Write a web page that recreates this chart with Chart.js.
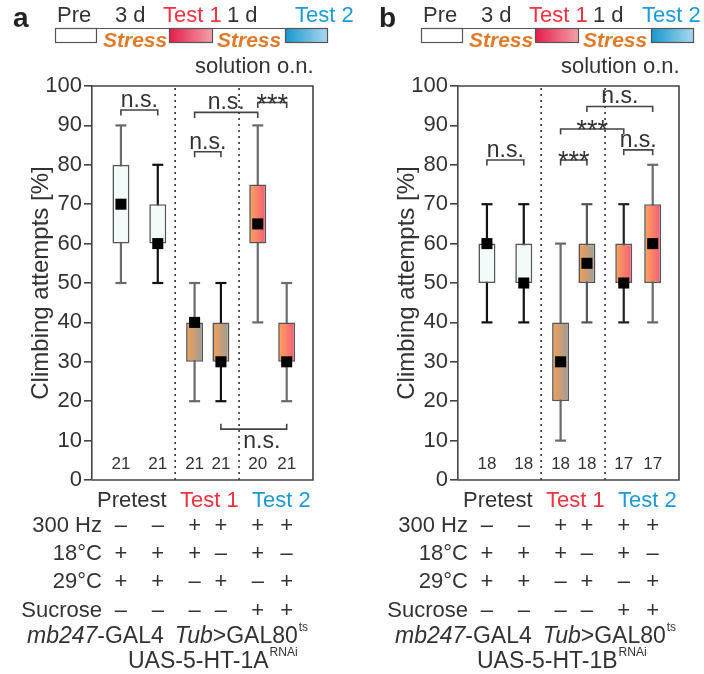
<!DOCTYPE html>
<html>
<head>
<meta charset="utf-8">
<script src="https://cdn.jsdelivr.net/npm/chart.js@4.4.0/dist/chart.umd.min.js"></script>
<style>
  html, body { margin: 0; padding: 0; background: #fff; }
  #wrap { position: relative; width: 704px; height: 674px; }
  .panel { position: absolute; top: 0; height: 674px; }
</style>
</head>
<body>
<div id="wrap">
  <div class="panel" style="left:0;width:366px"><canvas id="chartA"></canvas></div>
  <div class="panel" style="left:366px;width:338px"><canvas id="chartB"></canvas></div>
</div>
<script>
// x positions of the six boxes and the two dotted group dividers
const boxPos = [1.1, 2.5, 3.9, 4.9, 6.3, 7.4];
const dividerPos = [3.16, 5.59];
const groupNames = ["Pretest", "Test 1", "Test 2"];

// panel a: UAS-5-HT-1A RNAi
const aMin = [50, 50, 20, 20, 40, 20];
const aQ1 = [60, 60, 30, 30, 60, 30];
const aMed = [70, 60, 40, 30, 65, 30];
const aQ3 = [80, 70, 40, 40, 75, 40];
const aMax = [90, 80, 50, 50, 90, 50];
const aN = [21, 21, 21, 21, 20, 21];

// panel b: UAS-5-HT-1B RNAi
const bMin = [40, 40, 10, 40, 40, 40];
const bQ1 = [50, 50, 20, 50, 50, 50];
const bMed = [60, 50, 30, 55, 50, 60];
const bQ3 = [60, 60, 40, 60, 60, 70];
const bMax = [70, 70, 60, 70, 70, 80];
const bN = [18, 18, 18, 18, 17, 17];

// significance brackets (box index from/to, level in %, label)
const aBrFrom = [0, 2, 2, 4, 3];
const aBrTo = [1, 3, 4, 5, 5];
const aBrY = [93.9, 83.3, 93.3, 95.8, 12.9];
const aBrText = ["n.s.", "n.s.", "n.s.", "***", "n.s."];
const aBrDir = [-1, -1, -1, -1, 1];

const bBrFrom = [0, 2, 2, 3, 4];
const bBrTo = [1, 3, 4, 5, 5];
const bBrY = [81.2, 81.2, 89.1, 94.8, 83.8];
const bBrText = ["n.s.", "***", "***", "n.s.", "n.s."];
const bBrDir = [-1, -1, -1, -1, -1];

// condition table under the plots
const rowLabels = ["300 Hz", "18°C", "29°C", "Sucrose"];
const hz300 = ["–", "–", "+", "+", "+", "+"];
const temp18 = ["+", "+", "+", "–", "+", "–"];
const temp29 = ["+", "+", "–", "+", "–", "+"];
const sucrose = ["–", "–", "–", "–", "+", "+"];
const boxKind = ["pre", "pre", "test1", "test1", "test2", "test2"];

const FONT = '"Liberation Sans", Arial, Helvetica, sans-serif';
const TXT = "#333";
const RED = "#ef3340";
const BLUE = "#1d9bd7";
const ORANGE = "#e07b29";

function txt(ctx, s, x, y, size, color, align, style) {
  ctx.font = (style || "") + " " + size + "px " + FONT;
  ctx.fillStyle = color;
  ctx.textAlign = align || "left";
  ctx.textBaseline = "alphabetic";
  ctx.fillText(s, x, y);
  return ctx.measureText(s).width;
}

function hGrad(ctx, x0, x1, c0, c1) {
  const g = ctx.createLinearGradient(x0, 0, x1, 0);
  g.addColorStop(0, c0);
  g.addColorStop(1, c1);
  return g;
}

function boxFill(c) {
  const chart = c.chart;
  if (!chart.chartArea || c.dataIndex === undefined) return "#fff";
  const x = chart.scales.x.getPixelForValue(boxPos[c.dataIndex]);
  const kind = boxKind[c.dataIndex];
  if (kind === "pre") return "#f3fafa";
  if (kind === "test1") return hGrad(chart.ctx, x - 8.5, x + 8.5, "#f5a052", "#9c9c9c");
  return hGrad(chart.ctx, x - 8.5, x + 8.5, "#fca85a", "#f45a7a");
}

function makePanel(id, d) {
  const datasets = [];

  dividerPos.forEach((x) => {
    datasets.push({
      type: "line", order: 5,
      data: [{ x: x, y: 0 }, { x: x, y: 100 }],
      borderColor: "#333", borderWidth: 1.6, borderDash: [2, 4],
      pointRadius: 0, clip: false
    });
  });

  d.brFrom.forEach((f, i) => {
    const x1 = boxPos[f], x2 = boxPos[d.brTo[i]];
    const y = d.brY[i], y2 = y + d.brDir[i] * 1.4;
    datasets.push({
      type: "line", order: 5,
      data: [{ x: x1, y: y2 }, { x: x1, y: y }, { x: x2, y: y }, { x: x2, y: y2 }],
      borderColor: "#444", borderWidth: 1.6, pointRadius: 0
    });
  });

  datasets.push({
    type: "bar", order: 4, grouped: false, maxBarThickness: 2.2,
    data: boxPos.map((x, i) => ({ x: x, y: [d.min[i], d.max[i]] })),
    backgroundColor: d.whisk, borderWidth: 0
  });

  datasets.push({
    type: "bar", order: 3, grouped: false, maxBarThickness: 17,
    data: boxPos.map((x, i) => ({ x: x, y: [d.q1[i], d.q3[i]] })),
    backgroundColor: boxFill, borderColor: "#555", borderWidth: 1.6,
    borderSkipped: false
  });

  datasets.push({
    type: "line", order: 2, showLine: false,
    data: boxPos.map((x, i) => ({ x: x, y: d.min[i] })).concat(boxPos.map((x, i) => ({ x: x, y: d.max[i] }))),
    pointStyle: "line", pointRadius: 5.5, borderWidth: 2.2,
    pointBorderColor: d.whisk.concat(d.whisk)
  });

  datasets.push({
    type: "line", order: 1, showLine: false,
    data: boxPos.map((x, i) => ({ x: x, y: d.med[i] })),
    pointStyle: "rect", pointRadius: 7.8, pointBackgroundColor: "#000",
    pointBorderColor: "#000", pointBorderWidth: 0
  });

  const textPlugin = {
    id: "panelText",
    afterDraw(chart) {
      const ctx = chart.ctx;
      const a = chart.chartArea;
      const xs = chart.scales.x, ys = chart.scales.y;
      ctx.save();

      // frame
      ctx.strokeStyle = "#444";
      ctx.lineWidth = 1.6;
      ctx.beginPath();
      ctx.moveTo(a.left, a.top); ctx.lineTo(a.right, a.top);
      ctx.lineTo(a.right, a.bottom); ctx.lineTo(a.left, a.bottom);
      ctx.stroke();

      // bracket labels
      d.brFrom.forEach((f, i) => {
        const cx = (xs.getPixelForValue(boxPos[f]) + xs.getPixelForValue(boxPos[d.brTo[i]])) / 2;
        const py = ys.getPixelForValue(d.brY[i]);
        const s = d.brText[i];
        if (s === "***") txt(ctx, s, cx, py + 10, 27, TXT, "center");
        else if (d.brDir[i] < 0) txt(ctx, s, cx, py - 3, 23, TXT, "center");
        else txt(ctx, s, cx + 8, py + 19, 23, TXT, "center");
      });

      // sample sizes
      d.n.forEach((v, i) => {
        ctx.textBaseline = "middle";
        ctx.font = "17px " + FONT;
        ctx.fillStyle = TXT;
        ctx.textAlign = "center";
        ctx.fillText(String(v), xs.getPixelForValue(boxPos[i]), ys.getPixelForValue(4));
      });

      // header schematic
      txt(ctx, d.label, 13, 27, 28, "#222", "left", "bold");
      txt(ctx, "Pre", 57, 22, 22, TXT);
      txt(ctx, "3 d", 115, 22, 22, TXT);
      txt(ctx, "Test 1", 163, 22, 22, RED);
      txt(ctx, "1 d", 227, 22, 22, TXT);
      txt(ctx, "Test 2", d.test2X, 22, 22, BLUE);
      ctx.strokeStyle = "#555";
      ctx.lineWidth = 1.2;
      ctx.beginPath(); ctx.moveTo(55, 28.5); ctx.lineTo(328, 28.5); ctx.stroke();
      ctx.fillStyle = "#fff";
      ctx.fillRect(55.5, 28.5, 41, 14);
      ctx.strokeRect(55.5, 28.5, 41, 14);
      ctx.fillStyle = hGrad(ctx, 169, 213, "#e61b48", "#f3a3a8");
      ctx.fillRect(169.5, 28.5, 43, 14);
      ctx.strokeRect(169.5, 28.5, 43, 14);
      ctx.fillStyle = hGrad(ctx, 285, 328, "#1597cd", "#acd9f0");
      ctx.fillRect(285.5, 28.5, 42, 14);
      ctx.strokeRect(285.5, 28.5, 42, 14);
      txt(ctx, "Stress", 103, 47, 21, ORANGE, "left", "italic bold");
      txt(ctx, "Stress", 217, 47, 21, ORANGE, "left", "italic bold");
      txt(ctx, "solution o.n.", 195, 73, 22, TXT);

      // group names
      txt(ctx, groupNames[0], a.left + 5, 507, 22, TXT);
      txt(ctx, groupNames[1], a.left + 88, 507, 22, RED);
      txt(ctx, groupNames[2], a.left + 160, 507, 22, BLUE);

      // condition rows
      const rows = [hz300, temp18, temp29, sucrose];
      const baselines = [532, 560, 588, 617];
      rows.forEach((r, k) => {
        txt(ctx, rowLabels[k], a.left + 10, baselines[k], 22, TXT, "right");
        r.forEach((s, i) => txt(ctx, s, xs.getPixelForValue(boxPos[i]), baselines[k], 22, TXT, "center"));
      });

      // genotype
      let x = d.geneX1;
      x += txt(ctx, "mb247", x, 643, 23, TXT, "left", "italic");
      x += txt(ctx, "-GAL4", x, 643, 23, TXT);
      x += 11;
      x += txt(ctx, "Tub", x, 643, 23, TXT, "left", "italic");
      x += txt(ctx, ">GAL80", x, 643, 23, TXT);
      txt(ctx, "ts", x + 1, 631, 12, TXT);
      x = d.geneX2;
      x += txt(ctx, d.uas, x, 668, 23, TXT);
      txt(ctx, "RNAi", x + 1, 656, 12, TXT);

      ctx.restore();
    }
  };

  return new Chart(document.getElementById(id), {
    type: "bar",
    data: { datasets: datasets },
    options: {
      responsive: true,
      maintainAspectRatio: false,
      animation: false,
      events: [],
      layout: { padding: { left: 0, top: 86, right: d.padRight, bottom: 194 } },
      plugins: { legend: { display: false }, tooltip: { enabled: false } },
      scales: {
        x: { type: "linear", display: false, min: 0, max: 8.4, offset: false, ticks: { stepSize: 1 } },
        y: {
          min: 0, max: 100,
          ticks: { stepSize: 10, color: TXT, padding: 2, font: { family: FONT, size: 22 } },
          grid: { drawOnChartArea: false, drawTicks: true, tickLength: 8, color: "#444", lineWidth: 1.6 },
          border: { display: true, color: "#444", width: 1.6 },
          title: {
            display: true, text: "Climbing attempts [%]", color: TXT,
            font: { family: FONT, size: 24 }, padding: { top: 27, bottom: 0 }
          },
          afterFit(scale) { scale.width = 92; }
        }
      }
    },
    plugins: [textPlugin]
  });
}

makePanel("chartA", {
  label: "a", min: aMin, q1: aQ1, med: aMed, q3: aQ3, max: aMax, n: aN,
  brFrom: aBrFrom, brTo: aBrTo, brY: aBrY, brText: aBrText, brDir: aBrDir,
  whisk: ["#6a6a6a", "#111", "#6a6a6a", "#111", "#6a6a6a", "#6a6a6a"],
  test2X: 295, geneX1: 27, geneX2: 128, uas: "UAS-5-HT-1A", padRight: 53
});

makePanel("chartB", {
  label: "b", min: bMin, q1: bQ1, med: bMed, q3: bQ3, max: bMax, n: bN,
  brFrom: bBrFrom, brTo: bBrTo, brY: bBrY, brText: bBrText, brDir: bBrDir,
  whisk: ["#111", "#111", "#6a6a6a", "#555", "#222", "#6a6a6a"],
  test2X: 276, geneX1: 29, geneX2: 111, uas: "UAS-5-HT-1B", padRight: 25
});
</script>
</body>
</html>
